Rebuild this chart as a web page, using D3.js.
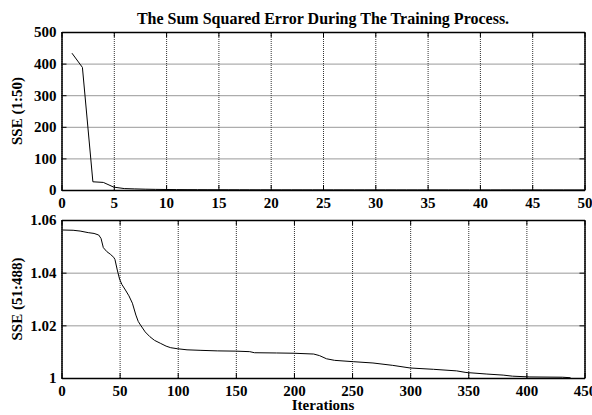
<!DOCTYPE html>
<html>
<head>
<meta charset="utf-8">
<script src="https://cdn.jsdelivr.net/npm/d3@7"></script>
<style>
  body { margin: 0; background: #fff; }
  text { font-family: "Liberation Serif", "Times New Roman", serif; font-weight: bold; }
</style>
</head>
<body>
<script>
// top panel: SSE for iterations 1..50
var topIter = d3.range(1, 51);
var topSSE = [433, 388, 26, 24, 9, 4.5, 3.5, 2.6, 2.0, 1.6,
  1.3, 1.1, 1.0, 0.9, 0.8, 0.75, 0.7, 0.65, 0.6, 0.55,
  0.52, 0.5, 0.48, 0.46, 0.44, 0.42, 0.4, 0.38, 0.37, 0.36,
  0.35, 0.34, 0.33, 0.32, 0.31, 0.3, 0.29, 0.28, 0.28, 0.27,
  0.27, 0.26, 0.26, 0.25, 0.25, 0.24, 0.24, 0.23, 0.23, 0.22];
var topXTicks = [0, 5, 10, 15, 20, 25, 30, 35, 40, 45, 50];
var topYTicks = [0, 100, 200, 300, 400, 500];

// bottom panel: SSE for iterations 51..488 (plotted 1..438)
var botIter = [1, 10, 16, 23, 28, 32, 34, 36, 39, 42, 45, 46, 48, 50, 52, 55, 58, 61, 64, 66,
  68, 72, 76, 80, 85, 90, 94, 100, 108, 120, 134, 150, 162, 166, 185, 200, 217, 222, 228, 235,
  251, 268, 285, 300, 320, 340, 348, 366, 380, 388, 403, 431, 438];
var botSSE = [1.0562, 1.0561, 1.0558, 1.0552, 1.0549, 1.0543, 1.0530, 1.0495, 1.0480, 1.0470,
  1.0458, 1.0450, 1.0410, 1.0375, 1.0355, 1.0334, 1.0312, 1.0284, 1.0239, 1.0215,
  1.0201, 1.0175, 1.0157, 1.0143, 1.0132, 1.0121, 1.0115, 1.0111, 1.0107, 1.0105,
  1.0103, 1.0102, 1.0100, 1.0096, 1.0095, 1.0094, 1.0091, 1.0085, 1.0073, 1.0067,
  1.0062, 1.0057, 1.0048, 1.0038, 1.0033, 1.0027, 1.0021, 1.0015, 1.0011, 1.0007,
  1.0004, 1.0003, 1.0001];
var botXTicks = [0, 50, 100, 150, 200, 250, 300, 350, 400, 450];
var botYTicks = [1, 1.02, 1.04, 1.06];

var titleText = "The Sum Squared Error During The Training Process.";
var xLabelText = "Iterations";

var W = 592, H = 415;
var left = 61.5, right = 584.5;
var fontSize = "15px";

var svg = d3.select("body").append("svg")
  .attr("width", W)
  .attr("height", H);

function draw_panel(cfg) {
  var x = d3.scaleLinear().domain(cfg.xDomain).range([left, right]);
  var y = d3.scaleLinear().domain(cfg.yDomain).range([cfg.bottom, cfg.top]);
  var h = cfg.bottom - cfg.top, w = right - left;
  var g = svg.append("g");

  // dotted grid
  g.append("g")
    .attr("transform", "translate(0," + cfg.bottom + ")")
    .call(d3.axisBottom(x).tickValues(cfg.xTicks).tickSize(-h).tickFormat(""))
    .call(s => s.select(".domain").remove())
    .selectAll("line").attr("stroke", "#333").attr("stroke-dasharray", "1,1");
  g.append("g")
    .attr("transform", "translate(" + left + ",0)")
    .call(d3.axisLeft(y).tickValues(cfg.yTicks).tickSize(-w).tickFormat(""))
    .call(s => s.select(".domain").remove())
    .selectAll("line").attr("stroke", "#333").attr("stroke-dasharray", "1,1");

  // data line
  var pts = cfg.xs.map(function(d, i) { return [d, cfg.ys[i]]; });
  g.append("path")
    .datum(pts)
    .attr("fill", "none")
    .attr("stroke", "#000")
    .attr("stroke-width", 1)
    .attr("d", d3.line().x(d => x(d[0])).y(d => y(d[1])));

  // axes with inward ticks
  var xb = g.append("g")
    .attr("transform", "translate(0," + cfg.bottom + ")")
    .call(d3.axisBottom(x).tickValues(cfg.xTicks).tickSize(-5).tickPadding(7).tickSizeOuter(0));
  var xt = g.append("g")
    .attr("transform", "translate(0," + cfg.top + ")")
    .call(d3.axisTop(x).tickValues(cfg.xTicks).tickSize(-5).tickFormat("").tickSizeOuter(0));
  var yl = g.append("g")
    .attr("transform", "translate(" + left + ",0)")
    .call(d3.axisLeft(y).tickValues(cfg.yTicks).tickSize(-5).tickPadding(5).tickSizeOuter(0)
      .tickFormat(cfg.yFormat));
  var yr = g.append("g")
    .attr("transform", "translate(" + right + ",0)")
    .call(d3.axisRight(y).tickValues(cfg.yTicks).tickSize(-5).tickFormat("").tickSizeOuter(0));

  [xb, xt, yl, yr].forEach(function(a) {
    a.select(".domain").attr("stroke", "#000").attr("stroke-width", 1.5);
    a.selectAll(".tick line").attr("stroke", "#000");
    a.selectAll("text")
      .attr("fill", "#000")
      .style("font-size", fontSize)
      .style("font-family", "'Liberation Serif', serif")
      .style("font-weight", "bold");
  });

  // y label
  svg.append("text")
    .attr("transform", "translate(22," + ((cfg.top + cfg.bottom) / 2) + ") rotate(-90)")
    .attr("text-anchor", "middle")
    .style("font-size", fontSize)
    .text(cfg.yLabel);
}

draw_panel({
  top: 32, bottom: 190,
  xDomain: [0, 50], yDomain: [0, 500],
  xTicks: topXTicks, yTicks: topYTicks,
  xs: topIter, ys: topSSE,
  yFormat: d3.format("d"),
  yLabel: "SSE (1:50)"
});

draw_panel({
  top: 220, bottom: 378,
  xDomain: [0, 450], yDomain: [1, 1.06],
  xTicks: botXTicks, yTicks: botYTicks,
  xs: botIter, ys: botSSE,
  yFormat: function(d) { return d === 1 ? "1" : d3.format(".2f")(d); },
  yLabel: "SSE (51:488)"
});

svg.append("text")
  .attr("x", (left + right) / 2)
  .attr("y", 24)
  .attr("text-anchor", "middle")
  .style("font-size", "16px")
  .text(titleText);

svg.append("text")
  .attr("x", (left + right) / 2)
  .attr("y", 410)
  .attr("text-anchor", "middle")
  .style("font-size", fontSize)
  .text(xLabelText);
</script>
</body>
</html>
